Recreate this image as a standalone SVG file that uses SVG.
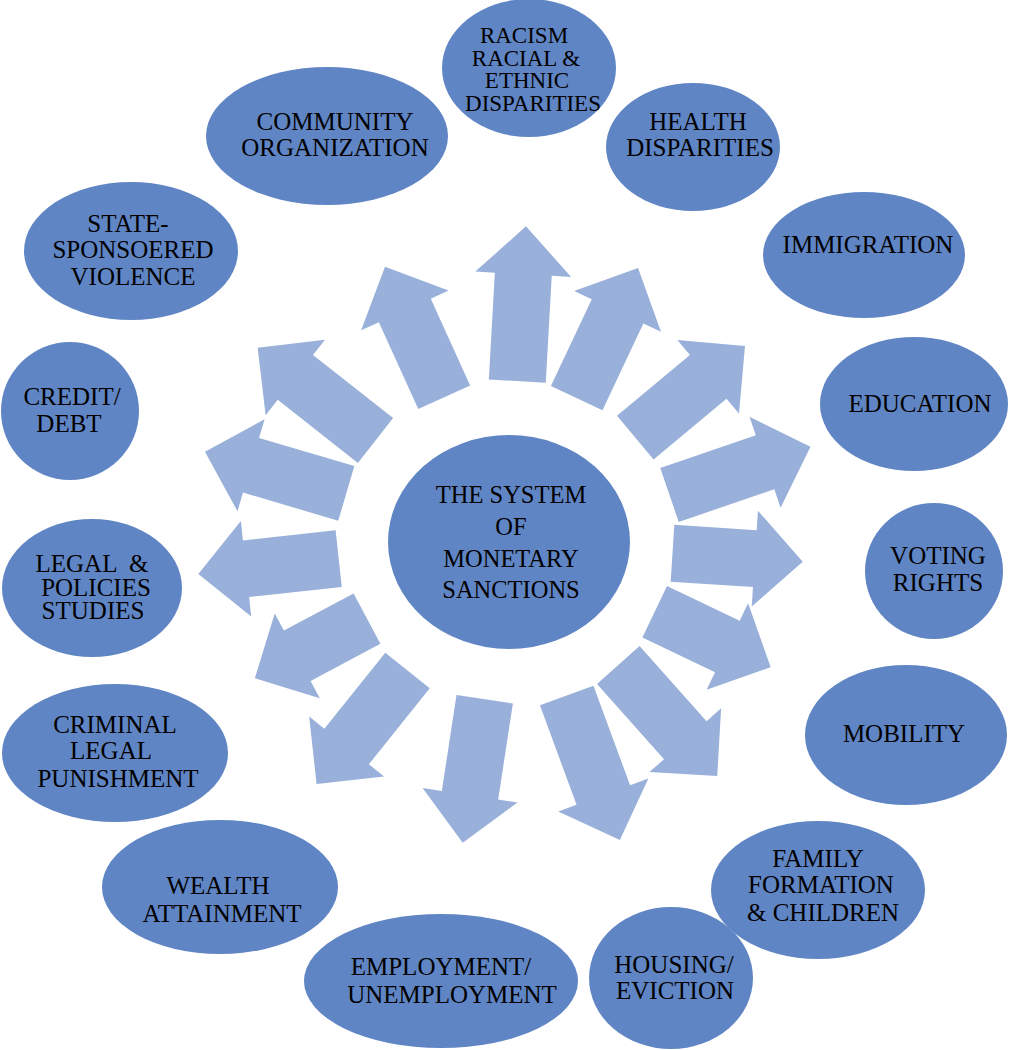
<svg xmlns="http://www.w3.org/2000/svg" width="1011" height="1050" viewBox="0 0 1011 1050">
<style>
.arrow{fill:#99B0DA;}
.node ellipse{fill:#6085C4;}
.node text{font-family:"Liberation Serif","Times New Roman",serif;font-size:25px;fill:#000;text-anchor:middle;white-space:pre;}
.center text{font-size:24.5px;}
.small text{font-size:23px;}
</style>
<rect x="0" y="0" width="1011" height="1050" fill="#FFFFFF"/>
<g id="connectors">
<polygon class="arrow" transform="translate(517.3,381.1) rotate(-86.8)" points="0,-28.5 107,-28.5 107,-48 155,0 107,48 107,28.5 0,28.5"/>
<polygon class="arrow" transform="translate(576.7,398.2) rotate(-64.8)" points="0,-28.5 96,-28.5 96,-48 144,0 96,48 96,28.5 0,28.5"/>
<polygon class="arrow" transform="translate(635.3,437.7) rotate(-39.9)" points="0,-28.5 95,-28.5 95,-48 143,0 95,48 95,28.5 0,28.5"/>
<polygon class="arrow" transform="translate(669.5,495) rotate(-18.9)" points="0,-28.5 101,-28.5 101,-48 149,0 101,48 101,28.5 0,28.5"/>
<polygon class="arrow" transform="translate(672.5,553.3) rotate(3.7)" points="0,-28.5 82.5,-28.5 82.5,-48 130.5,0 82.5,48 82.5,28.5 0,28.5"/>
<polygon class="arrow" transform="translate(654.7,611.7) rotate(25.6)" points="0,-28.5 80.6,-28.5 80.6,-48 128.6,0 80.6,48 80.6,28.5 0,28.5"/>
<polygon class="arrow" transform="translate(618.3,665) rotate(48.3)" points="0,-28.5 100.7,-28.5 100.7,-48 148.7,0 100.7,48 100.7,28.5 0,28.5"/>
<polygon class="arrow" transform="translate(566.7,695.5) rotate(69.8)" points="0,-28.5 106,-28.5 106,-48 154,0 106,48 106,28.5 0,28.5"/>
<polygon class="arrow" transform="translate(484.7,699.2) rotate(98.7)" points="0,-28.5 97.2,-28.5 97.2,-48 145.2,0 97.2,48 97.2,28.5 0,28.5"/>
<polygon class="arrow" transform="translate(407.5,670.5) rotate(128.7)" points="0,-28.5 97.4,-28.5 97.4,-48 145.4,0 97.4,48 97.4,28.5 0,28.5"/>
<polygon class="arrow" transform="translate(367,618.7) rotate(152)" points="0,-28.5 79,-28.5 79,-48 127,0 79,48 79,28.5 0,28.5"/>
<polygon class="arrow" transform="translate(338.7,558.7) rotate(173.8)" points="0,-28.5 93.2,-28.5 93.2,-48 141.2,0 93.2,48 93.2,28.5 0,28.5"/>
<polygon class="arrow" transform="translate(346.3,493.3) rotate(-163.6)" points="0,-28.5 99.3,-28.5 99.3,-48 147.3,0 99.3,48 99.3,28.5 0,28.5"/>
<polygon class="arrow" transform="translate(375.5,440.5) rotate(-141.8)" points="0,-28.5 102,-28.5 102,-48 150,0 102,48 102,28.5 0,28.5"/>
<polygon class="arrow" transform="translate(444.2,397.2) rotate(-114.4)" points="0,-28.5 95.3,-28.5 95.3,-48 143.3,0 95.3,48 95.3,28.5 0,28.5"/>
</g>
<g id="center" class="node center">
<ellipse cx="509" cy="542" rx="121" ry="107"/>
<text x="511" y="503">THE SYSTEM</text>
<text x="511" y="535">OF</text>
<text x="511" y="567">MONETARY</text>
<text x="511" y="598">SANCTIONS</text>
</g>
<g id="racism" class="node small">
<ellipse cx="529" cy="68" rx="87" ry="69"/>
<text x="524" y="43">RACISM</text>
<text x="526" y="65.5">RACIAL &amp;</text>
<text x="527" y="88">ETHNIC</text>
<text x="533" y="110.5">DISPARITIES</text>
</g>
<g id="health" class="node">
<ellipse cx="693" cy="147" rx="87" ry="64"/>
<text x="698" y="130">HEALTH</text>
<text x="700" y="156">DISPARITIES</text>
</g>
<g id="immigration" class="node">
<ellipse cx="864" cy="255" rx="101" ry="63"/>
<text x="868" y="253">IMMIGRATION</text>
</g>
<g id="education" class="node">
<ellipse cx="914" cy="404" rx="94" ry="67"/>
<text x="920" y="412">EDUCATION</text>
</g>
<g id="voting" class="node">
<ellipse cx="934" cy="571" rx="69" ry="68"/>
<text x="938" y="564">VOTING</text>
<text x="938" y="591">RIGHTS</text>
</g>
<g id="mobility" class="node">
<ellipse cx="906" cy="735" rx="101" ry="70"/>
<text x="904" y="742">MOBILITY</text>
</g>
<g id="family" class="node">
<ellipse cx="818" cy="890" rx="107" ry="69"/>
<text x="818" y="867">FAMILY</text>
<text x="821" y="893">FORMATION</text>
<text x="823" y="921">&amp; CHILDREN</text>
</g>
<g id="housing" class="node">
<ellipse cx="671" cy="978" rx="82" ry="71"/>
<text x="674" y="973">HOUSING/</text>
<text x="675" y="999">EVICTION</text>
</g>
<g id="employment" class="node">
<ellipse cx="441" cy="981" rx="137" ry="67"/>
<text x="441" y="975">EMPLOYMENT/</text>
<text x="452" y="1003">UNEMPLOYMENT</text>
</g>
<g id="wealth" class="node">
<ellipse cx="220" cy="887" rx="118" ry="67"/>
<text x="218" y="894">WEALTH</text>
<text x="222" y="922">ATTAINMENT</text>
</g>
<g id="criminal" class="node">
<ellipse cx="115" cy="753" rx="113" ry="69"/>
<text x="115" y="733">CRIMINAL</text>
<text x="111" y="759">LEGAL</text>
<text x="118" y="787">PUNISHMENT</text>
</g>
<g id="legal" class="node">
<ellipse cx="92" cy="588" rx="90" ry="69"/>
<text x="92" y="572">LEGAL  &amp;</text>
<text x="96" y="595.5">POLICIES</text>
<text x="93" y="619">STUDIES</text>
</g>
<g id="credit" class="node">
<ellipse cx="70" cy="411" rx="69" ry="69"/>
<text x="72" y="405">CREDIT/</text>
<text x="69" y="432">DEBT</text>
</g>
<g id="state" class="node">
<ellipse cx="131" cy="251" rx="107" ry="69"/>
<text x="128" y="232">STATE-</text>
<text x="133" y="258">SPONSOERED</text>
<text x="133" y="285">VIOLENCE</text>
</g>
<g id="community" class="node">
<ellipse cx="327" cy="136" rx="121" ry="69"/>
<text x="335" y="130">COMMUNITY</text>
<text x="335" y="156">ORGANIZATION</text>
</g>
</svg>
